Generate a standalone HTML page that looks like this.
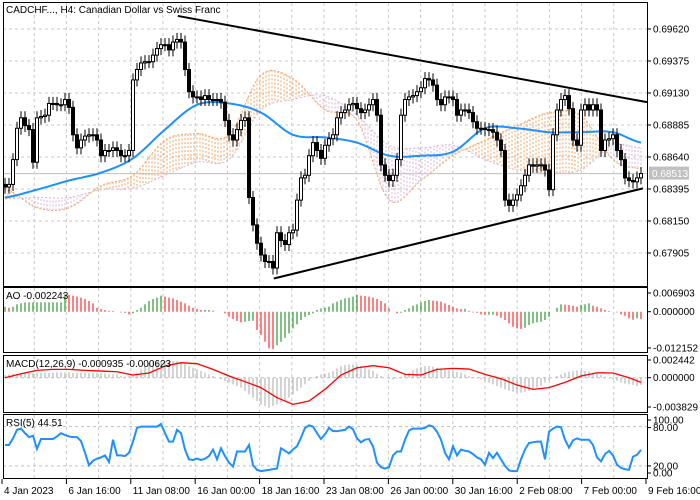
<!DOCTYPE html>
<html><head><meta charset="utf-8"><style>
html,body{margin:0;padding:0;background:#fff;}
svg{display:block;font-family:"Liberation Sans",sans-serif;font-size:10px;}
</style></head><body>
<svg id="chart" width="700" height="500" viewBox="0 0 700 500" xmlns="http://www.w3.org/2000/svg">
<rect x="0" y="0" width="700" height="500" fill="#fff"/>
<g id="grid"></g>
<g id="cloud"></g>
<g id="ma"></g>
<g id="candles"></g>
<g id="trend"></g>
<g id="ao"></g>
<g id="macd"></g>
<g id="rsi"></g>
<g id="frames"></g>
<g id="axes"></g>
<text x="6" y="13">CADCHF..., H4:  Canadian Dollar vs Swiss Franc</text>
<text x="6" y="299">AO -0.002243</text>
<text x="6" y="367">MACD(12,26,9) -0.000935 -0.000623</text>
<text x="6" y="426">RSI(5) 44.51</text>
</svg>
<script>
// ---- data ----
const closes = [
.6841,.6843,.6862,.6886,.6894,.6888,.6885,.6860,.6894,.6895,
.6896,.6905,.6905,.6904,.6904,.6908,.6902,.6881,.6871,.6877,
.6880,.6881,.6881,.6877,.6865,.6869,.6869,.6871,.6869,.6865,
.6865,.6869,.6923,.6931,.6936,.6937,.6937,.6942,.6947,.6950,
.6950,.6946,.6952,.6954,.6952,.6931,.6914,.6910,.6910,.6908,
.6911,.6908,.6908,.6908,.6906,.6892,.6881,.6877,.6885,.6892,
.6894,.6833,.6812,.6798,.6789,.6784,.6784,.6779,.6806,.6800,
.6797,.6806,.6808,.6831,.6848,.6850,.6865,.6875,.6869,.6863,
.6873,.6878,.6881,.6894,.6898,.6900,.6904,.6905,.6901,.6898,
.6900,.6904,.6908,.6896,.6858,.6850,.6846,.6850,.6862,.6896,
.6908,.6910,.6911,.6914,.6917,.6924,.6923,.6919,.6908,.6904,
.6910,.6910,.6908,.6896,.6900,.6900,.6898,.6891,.6886,.6886,
.6885,.6885,.6883,.6877,.6869,.6831,.6827,.6831,.6835,.6842,
.6850,.6858,.6857,.6858,.6858,.6854,.6839,.6881,.6900,.6908,
.6911,.6901,.6877,.6873,.6900,.6904,.6900,.6904,.6900,.6869,
.6877,.6878,.6881,.6869,.6862,.6848,.6846,.6845,.6848,.68513];
const firstOpen = 0.6843;
const maBars = [0,8,16,24,32,40,48,56,64,72,80,88,96,104,112,120,128,136,144,152,159];
const maValues = [.6833,.6839,.6846,.6852,.6863,.6885,.6904,.6905,.6898,.6881,.6879,.6875,.6865,.6865,.6868,.6886,.6886,.6883,.6883,.6883,.6875];
const spanA = [.6840,.6825,.6825,.6842,.6850,.6877,.6882,.6881,.6927,.6924,.6900,.6892,.6831,.6846,.6865,.6877,.6888,.6898,.6896,.6862,.6855];
const spanB = [.6832,.6833,.6833,.6839,.6840,.6850,.6860,.6862,.6900,.6908,.6911,.6896,.6873,.6871,.6873,.6862,.6854,.6852,.6854,.6873,.6871];
const upperTrend = [[43.2,0.6972],[160.5,0.6906]];
const lowerTrend = [[67.2,0.6771],[159.5,0.6840]];
const lastPrice = 0.68513;
const aoValues = [
15,12,15,22,25,28,28,28,28,28, 28,28,28,28,28,52,50,48,45,42,
38,32,25,12,8,5,3,2,0,-2, -3,-8,-5,5,12,22,32,38,42,48,
45,42,40,35,30,25,18,12,8,5, 5,5,3,0,0,-5,-15,-22,-28,-32,
-30,-28,-27,-55,-70,-90,-110,-112,-100,-90, -78,-65,-50,-38,-25,-15,-10,-5,5,10,
12,15,25,30,35,40,42,45,50,48, 47,45,42,38,32,25,10,0,-5,-3,
5,10,18,22,28,32,35,33,32,30, 25,20,15,10,8,9,3,-2,-3,-8,
-10,-9,-9,-12,-18,-25,-35,-45,-50,-52, -48,-40,-35,-32,-30,-25,-15,0,12,22,
21,20,18,15,20,22,25,18,15,10, 5,2,0,-2,-8,-12,-20,-24,-20,-22];
const macdValues = [
3.5,4.4,5.2,5.2,5.2,5.2,6.1,6.5, 6.5,6.5,6.5,6.5,6.5,7,7,7,7,6.5,6.5,6.5,6.5,6,6,6,6,5.5,5,4.5,
4.3,2.2,1.3,2.2,3.5, 6.5,10.9,15.2,19.6,21.7,21.7,20.9, 21.7,21.7,21.7,21.7,
20.9,18.3,15.2,13,10.9,8.7,6.5,4.3,2.2, 0,-2.2,-4.3,-6.5,
-8.7,-10.9,-13,-17.4,-21.7,-26.1,-30.4,-34.8,-37,-39.2,
-37,-34.8,-32.6,-29.6,-26.1,-21.7,-17.4,-13,-8.7,-4.3,-0.9,2.2, 4.3,
5.2,6.5,8.7,12.2,15.2,16.5,17.4,17.4,16.5,15.2,13,
10.9,8.7,5.2,2.2,0,-1.3,-2.2,-0.9,1.3,
3.5,6.5,9.6,12.2,13.9,15.2,15.2,14.4,13,12.2,10.9,
9.6,8.7,7.8,6.5,4.3,2.2,0.9,-0.9,
-2.2,-4.3,-6.5,-8.7,-10.9,-13,-15.2,-17.4,-18.3,-19.6,-19.6,
-18.3,-17.4,-15.2,-13,-10.9,-6.5,-3.5,0,
2.2,4.3,6.5,7.8,8.7,9.6,9.6,8.7,7.8,6.5,5.2,3.5,
1.3,0,-2.2,-4.3,-6.5,-7.8,-8.7,-9.6,-10.9,-9.35];
const signalBars = [0,4,8,12,16,20,24,28,32,36,40,44,48,52,56,60,64,68,72,76,80,84,88,92,96,100,104,108,112,116,120,124,128,132,136,140,144,148,152,156,159];
const signalValues = [0,5.2,9.6,10.9,10.9,9.6,8.7,7.8,3.5,6.1,15.2,19.6,18.3,10.9,2.2,-5.2,-13,-26.1,-34.8,-30.4,-15.2,3.5,13,15.7,13,4.3,3.5,10.9,12.2,11.3,4.3,-1.3,-9.6,-15.2,-13,-6.1,2.2,6.5,6.1,0,-6.2];
const rsiValues = [
52,52,62,75,77,70,64,66,46,61, 61,61,61,65,70,67,65,64,64,58,
40,21,28,31,33,36,26,60,36,36, 35,40,57,78,80,80,80,80,80,84,
70,57,57,75,70,45,30,29,31,29, 31,35,45,30,47,35,25,19,42,42,
42,52,21,14,12,13,14,15,16,47, 43,39,45,50,63,78,82,80,70,61,
68,78,73,73,74,75,80,76,62,56, 60,61,50,25,18,16,18,36,42,42,
60,74,77,77,77,78,82,80,72,60, 40,30,50,36,45,43,42,38,33,30,
22,40,32,40,30,20,13,12,12,30, 45,55,56,57,57,30,72,77,80,79,
60,48,59,62,60,60,60,52,33,27, 38,43,36,22,17,15,14,34,37,44.51];
const priceTicks = ["0.69620","0.69375","0.69130","0.68885","0.68640","0.68395","0.68150","0.67905"];
const dateLabels = ["4 Jan 2023","6 Jan 16:00","11 Jan 08:00","16 Jan 00:00","18 Jan 16:00","23 Jan 08:00","26 Jan 00:00","30 Jan 16:00","2 Feb 08:00","7 Feb 00:00","9 Feb 16:00"];

const NS="http://www.w3.org/2000/svg";
const X = i => 5 + 4*i;
const Y = p => 29 + (0.6962 - p)/0.00245*32;
const aoY = v => 311.7 - v*0.3338;
const macdY = v => 377.7 - v*0.7654;
const rsiY = v => 479 - v*0.655;
function mk(tag, attrs, parent){const e=document.createElementNS(NS,tag);for(const k in attrs)e.setAttribute(k,attrs[k]);parent.appendChild(e);return e;}
const G = id => document.getElementById(id);
// Catmull-Rom sampled curve value at bar position i
function curveAt(bars, vals, i){
 let k=0;while(k<bars.length-2&&i>bars[k+1])k++;
 const p0=vals[Math.max(0,k-1)],p1=vals[k],p2=vals[k+1],p3=vals[Math.min(vals.length-1,k+2)];
 const t=Math.min(1,Math.max(0,(i-bars[k])/(bars[k+1]-bars[k])));
 return 0.5*((2*p1)+(-p0+p2)*t+(2*p0-5*p1+4*p2-p3)*t*t+(-p0+3*p1-3*p2+p3)*t*t*t);
}
function curvePath(bars, vals, fy){let d='';for(let i=bars[0];i<=bars[bars.length-1];i+=1){d+=(i===bars[0]?'M':'L')+X(i)+','+fy(curveAt(bars,vals,i)).toFixed(1);}return d;}

const grid=G('grid');
for(let k=1;k<20;k++){const gx=2+32.2*k;
 [[3,286],[288,352],[356,412],[415,478]].forEach(r=>{const l=mk('line',{x1:gx,x2:gx,y1:r[0],y2:r[1],stroke:'#c8c8c8','stroke-dasharray':'3,3','stroke-width':1},grid);
 });}
priceTicks.forEach(t=>{const y=Y(parseFloat(t));const l=mk('line',{x1:3,x2:647,y1:y,y2:y,stroke:'#c8c8c8','stroke-dasharray':'3,3'},grid);
 });
[[macdY(0)],[rsiY(80)],[rsiY(20)]].forEach(a=>{const l=mk('line',{x1:3,x2:647,y1:a[0],y2:a[0],stroke:'#c0c0c0','stroke-dasharray':'3,3'},grid);
 });
{const y=Y(lastPrice);const l=mk('line',{x1:3,x2:647,y1:y,y2:y,stroke:'#c0c0c0'},grid);
 }

const cloud=G('cloud');
for(let x=5;x<=641;x+=3){const i=(x-5)/4;const a=curveAt(maBars,spanA,i),b=curveAt(maBars,spanB,i);
 const col=a>=b?'#f4a460':'#d8b4d8';
 const l=mk('line',{x1:x,x2:x,y1:Y(a),y2:Y(b),stroke:col,'stroke-dasharray':'2,2','stroke-width':1},cloud);
 }
{const a=mk('path',{d:curvePath(maBars,spanA,Y),fill:'none',stroke:'#f4a460','stroke-dasharray':'2,2'},cloud);
 const b=mk('path',{d:curvePath(maBars,spanB,Y),fill:'none',stroke:'#d8b4d8','stroke-dasharray':'2,2'},cloud);}

{const p=mk('path',{d:curvePath(maBars,maValues,Y),fill:'none',stroke:'#1e90ff','stroke-width':2},G('ma'));
 }

const cg=G('candles');
closes.forEach((c,i)=>{const o=i?closes[i-1]:firstOpen;const hi=Math.max(o,c)+0.0005,lo=Math.min(o,c)-0.0005;
 const x=X(i);const w=mk('line',{x1:x,x2:x,y1:Y(hi),y2:Y(lo),stroke:'#000'},cg);
 
 const top=Y(Math.max(o,c)),bot=Y(Math.min(o,c));
 const r=mk('rect',{x:x-1.5,y:top,width:3,height:Math.max(1,bot-top),fill:c>=o?'#fff':'#000',stroke:'#000','stroke-width':1},cg);
 });

[upperTrend,lowerTrend].forEach((t,k)=>{const l=mk('line',{x1:X(t[0][0]),y1:Y(t[0][1]),x2:X(t[1][0]),y2:Y(t[1][1]),stroke:'#000','stroke-width':2},G('trend'));
 });

aoValues.forEach((v,i)=>{const prev=i?aoValues[i-1]:v;const col=v>=prev?'#008000':'#ff0000';
 const l=mk('line',{x1:X(i),x2:X(i),y1:aoY(0),y2:aoY(v),stroke:col,'stroke-width':1},G('ao'));
 });

macdValues.forEach((v,i)=>{const l=mk('line',{x1:X(i),x2:X(i),y1:macdY(0),y2:macdY(v),stroke:'#a9a9a9','stroke-width':1},G('macd'));
 });
{let d='';signalBars.forEach((b,k)=>{d+=(k?'L':'M')+X(b)+','+macdY(signalValues[k]);});
 const p=mk('path',{d:d,fill:'none',stroke:'#ff0000','stroke-width':1.3},G('macd'));
 }

{let d='';rsiValues.forEach((v,i)=>{d+=(i?'L':'M')+X(i)+','+rsiY(v);});
 const p=mk('path',{d:d,fill:'none',stroke:'#1e90ff','stroke-width':2},G('rsi'));
 }

const fr=G('frames');
[[3,2,644,284,'main-panel'],[3,287,644,65,'ao-panel'],[3,355,644,57,'macd-panel'],[3,414,644,64,'rsi-panel']].forEach(f=>{
 const r=mk('rect',{x:f[0]+0.5,y:f[1]+0.5,width:f[2],height:f[3],fill:'none',stroke:'#000'},fr);
 });

const ax=G('axes');
function label(x,y,t,name){const e=mk('text',{x:x,y:y},ax);e.textContent=t;return e;}
function tick(x1,y1,x2,y2){const l=mk('line',{x1:x1,y1:y1,x2:x2,y2:y2,stroke:'#000'},ax);}
priceTicks.forEach(t=>{const y=Y(parseFloat(t));tick(647,y,651,y);label(653,y+3.5,t,'price-tick-label');});
{const y=Y(lastPrice);const r=mk('rect',{x:649,y:y-7,width:40,height:13,fill:'#c0c0c0'},ax);
 
 const t=label(652,y+3.5,'0.68513','current-price-label');t.setAttribute('fill','#fff');}
[[293,'0.006903'],[aoY(0),'0.000000'],[348,'-0.012152'],[360,'0.002442'],[macdY(0),'0.000000'],[407,'-0.003829'],[420,'100.00'],[rsiY(80)+1,'80.00'],[rsiY(20),'20.00'],[473,'0.00']].forEach(a=>{
 tick(647,a[0],651,a[0]);label(653,a[0]+3.5,a[1],'indicator-tick-label');});
dateLabels.forEach((t,k)=>{const x=2+64.4*k;tick(x,479,x,484);label(x+2,494,t,'date-label');});
</script>
</body></html>
